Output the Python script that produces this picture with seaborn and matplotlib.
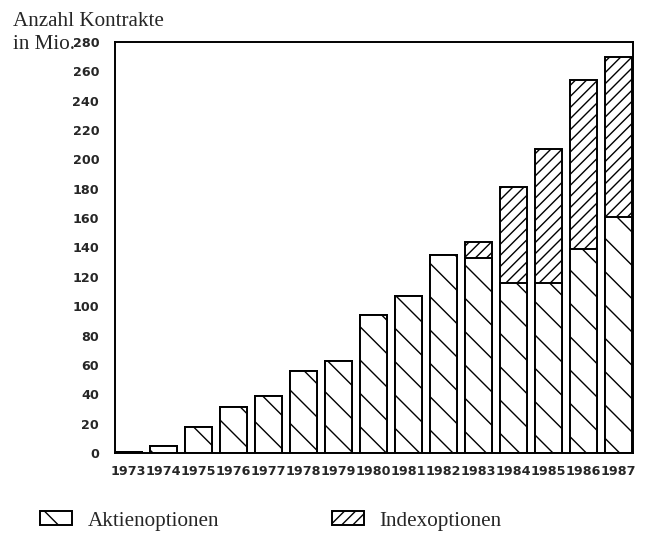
import pandas as pd
import matplotlib.pyplot as plt
import seaborn as sns

# Options contracts traded (million), stacked: shares options + index options
years = ['1973', '1974', '1975', '1976', '1977', '1978', '1979', '1980',
         '1981', '1982', '1983', '1984', '1985', '1986', '1987']
aktienoptionen = [1, 5, 17.5, 31.5, 38.5, 56, 62.5, 94, 107, 135, 133, 116, 116, 139, 161]
indexoptionen = [0, 0, 0, 0, 0, 0, 0, 0, 0, 0, 11, 65, 91, 115, 109]

df = pd.DataFrame({'year': years, 'aktien': aktienoptionen, 'index': indexoptionen})
df['total'] = df['aktien'] + df['index']

sns.set_style('white')
plt.rcParams['hatch.linewidth'] = 0.5
plt.rcParams['font.family'] = ['DejaVu Sans']

# dpi 200 so the hatch pattern is as sparse as in the scanned original
fig = plt.figure(figsize=(3.225, 2.665), dpi=200)
ax = fig.add_axes([0.1783, 0.1501, 0.8031, 0.7711])

# totals hatched as index options, then the share options drawn over the lower part
sns.barplot(data=df, x='year', y='total', color='white', saturation=1, width=0.77,
            edgecolor='black', linewidth=0.7, hatch='//////', label='Indexoptionen', ax=ax)
sns.barplot(data=df, x='year', y='aktien', color='white', saturation=1, width=0.77,
            edgecolor='black', linewidth=0.7, hatch='\\\\', label='Aktienoptionen', ax=ax)

ax.set_xlim(-0.385, 14.41)
ax.set_ylim(0, 280)
ax.set_yticks(range(0, 281, 20))
ax.set_xlabel('')
ax.set_ylabel('')
for s in ax.spines.values():
    s.set_linewidth(0.7)
    s.set_color('black')
ax.tick_params(axis='both', direction='out', length=2.2, width=0.7, color='black',
               labelsize=4.6)
ax.tick_params(axis='y', pad=3.5)
ax.tick_params(axis='x', pad=2.3)
for lab in ax.get_xticklabels() + ax.get_yticklabels():
    lab.set_fontweight('bold')

serif = ['Liberation Serif', 'DejaVu Serif']
fig.text(13 / 645, 1 - 26 / 533, 'Anzahl Kontrakte', family=serif, size=7.6, va='baseline')
fig.text(13 / 645, 1 - 49 / 533, 'in Mio.', family=serif, size=7.6, va='baseline')

leg = ax.get_legend()
if leg is not None:
    leg.remove()
handles = [ax.containers[1], ax.containers[0]]
fig.legend(handles=handles, labels=['Aktienoptionen', 'Indexoptionen'],
           loc='center left', bbox_to_anchor=(40 / 645, 1 - 521 / 533), ncol=2,
           frameon=False, borderpad=0, borderaxespad=0,
           prop={'family': serif, 'size': 7.6},
           handlelength=1.52, handleheight=0.66, handletextpad=0.76, columnspacing=5.3)

fig.savefig('out.png', dpi=200)
